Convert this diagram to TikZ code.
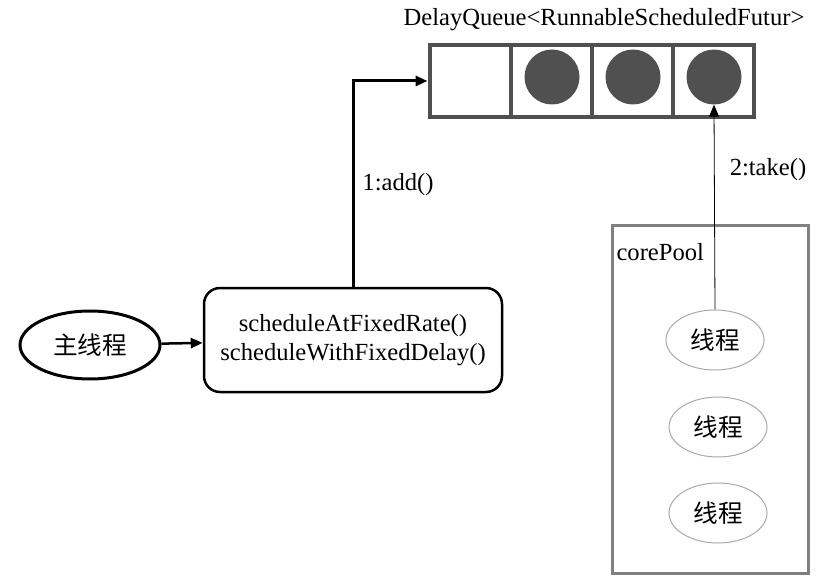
\documentclass[tikz,border=0pt]{standalone}
\usepackage{fontspec}
\setmainfont{Liberation Serif}
\newfontfamily\cjk{Noto Sans CJK SC}
\usetikzlibrary{arrows.meta,shapes.geometric}

\definecolor{qgray}{HTML}{505050}
\definecolor{pgray}{HTML}{808080}
\definecolor{tgray}{HTML}{A8A8A8}

\begin{document}
\begin{tikzpicture}[x=1pt, y=-1pt, font=\fontsize{24.6}{29}\selectfont]
    \useasboundingbox (0, 0) rectangle (831, 583);

    \begin{scope}[every node/.style={draw=qgray,line width=4pt,minimum width=81pt,minimum height=72pt,inner sep=0pt}]
        \node (Q_1) at (470, 81) {};
        \node (Q_2) at (551, 81) {};
        \node (Q_3) at (632, 81) {};
        \node (Q_4) at (713, 81) {};
    \end{scope}

    \begin{scope}[every node/.style={circle,fill=qgray,minimum size=55pt,inner sep=0pt}]
        \node (C_2) at (552, 77) {};
        \node (C_3) at (633, 77) {};
        \node (C_4) at (714, 77) {};
    \end{scope}

    \node (D) at (604, 20) {DelayQueue<RunnableScheduledFutur>};

    \begin{scope}
        \node[draw,ellipse,line width=3pt,minimum width=140pt,minimum height=68pt] (M) at (90, 345) {\cjk 主线程};
        \node[draw,rounded corners=16pt,line width=2.5pt,minimum width=298pt,minimum height=104pt,align=center] (S) at (353, 340)
            {scheduleAtFixedRate()\\scheduleWithFixedDelay()};
    \end{scope}

    \draw[draw=pgray,line width=3pt] (612, 226) rectangle (808, 573);
    \node[anchor=west] (P) at (613, 252) {corePool};

    \begin{scope}[every node/.style={draw=tgray,ellipse,line width=1pt,minimum width=98pt,minimum height=60pt}]
        \node (T_1) at (715, 340) {\cjk 线程};
        \node (T_2) at (718, 427) {\cjk 线程};
        \node (T_3) at (718, 513) {\cjk 线程};
    \end{scope}

    \begin{scope}[every edge/.style={draw=black}]
        \path[-{Triangle[length=12pt,width=10pt]}, line width=2.5pt] (M) edge (S);
        \draw[-{Triangle[length=12pt,width=10pt]}, line width=3pt] (S.north) |- (Q_1.west);
        \path[-{Triangle[length=12pt,width=10pt]}, line width=0.8pt] (T_1.north) edge (C_4.south);
    \end{scope}

    \node (A) at (398, 185) {1:add()};
    \node (B) at (768, 170) {2:take()};
\end{tikzpicture}
\end{document}
